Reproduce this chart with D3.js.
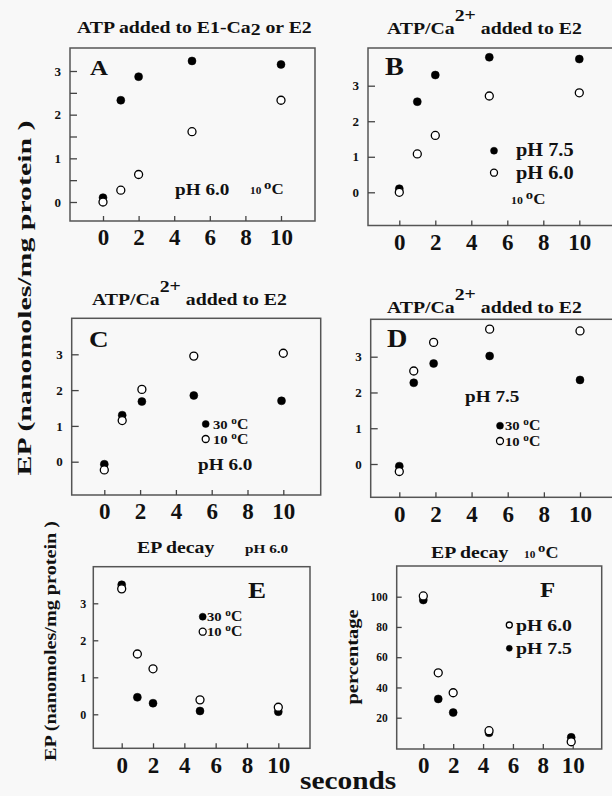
<!DOCTYPE html>
<html>
<head>
<meta charset="utf-8">
<script src="https://cdnjs.cloudflare.com/ajax/libs/d3/7.8.5/d3.min.js"></script>
<style>
  body { margin: 0; background: #f8f8f8; }
  svg { display: block; font-family: "Liberation Serif", "Times New Roman", serif; font-weight: bold; }
  .box { fill: none; stroke: #555; stroke-width: 1.5; }
  .axis line { stroke: #444; stroke-width: 1.3; }
  .axis text { fill: #111; font-family: "Liberation Serif", serif; font-weight: bold; }
</style>
</head>
<body>
<div class="wrapper"></div>
<script>
// shared ticks and times
var seconds = [0, 1, 2, 5, 10];
var xTicks = [0, 2, 4, 6, 8, 10];
var epTicks = [0, 1, 2, 3];
var epHalfTicks = [0, 0.5, 1, 1.5, 2, 2.5, 3];
var pctTicks = [20, 40, 60, 80, 100];

// A: ATP added to E1-Ca2 or E2
var aFilled = [0.1, 2.33, 2.87, 3.23, 3.15];
var aOpen = [0.0, 0.27, 0.63, 1.61, 2.33];

// B: ATP/Ca2+ added to E2, pH 7.5 (filled) / pH 6.0 (open)
var bFilled = [0.1, 2.55, 3.3, 3.8, 3.75];
var bOpen = [0.0, 1.08, 1.6, 2.71, 2.8];

// C: pH 6.0, 30 C (filled) / 10 C (open)
var cFilledTimes = [0, 1, 2.1, 5, 9.9];
var cOpenTimes = [0, 1, 2.1, 5, 10];
var cFilled = [-0.07, 1.3, 1.68, 1.85, 1.7];
var cOpen = [-0.23, 1.15, 2.02, 2.95, 3.03];

// D: pH 7.5, 30 C (filled) / 10 C (open)
var dTimes = [0, 0.8, 1.9, 5, 10];
var dFilled = [-0.06, 2.27, 2.81, 3.02, 2.35];
var dOpen = [-0.21, 2.6, 3.4, 3.77, 3.72];

// E: EP decay pH 6.0
var eFilled = [3.5, 0.46, 0.3, 0.09, 0.07];
var eOpen = [3.39, 1.63, 1.23, 0.39, 0.19];

// F: EP decay 10 C, pH 6.0 (open) / pH 7.5 (filled)
var fTimes = [0, 1, 2, 4.4, 9.9];
var fOpen = [100.5, 49.7, 36.5, 11.4, 4.1];
var fFilled = [97.8, 32.4, 23.4, 10, 7];

var W = 612,
  H = 796,
  stretch = 1.13;

var svg = d3
  .select(".wrapper")
  .append("svg")
  .attr("width", W)
  .attr("height", H);

var panels = [
  {
    letter: "A", box: [70, 48, 315, 221], xPix: [103, 281], yDom: [0, 3], yPix: [202, 71],
    yTicks: epHalfTicks, tick: 7, pad: 9, ySize: 13, letterAt: [90, 75, 22],
    series: [
      { x: seconds, y: aFilled, filled: true },
      { x: seconds, y: aOpen, filled: false }
    ]
  },
  {
    letter: "B", box: [368, 48, 618, 225.5], xPix: [399.3, 579.3], yDom: [0, 3], yPix: [192.3, 85.7],
    yTicks: epTicks, tick: 7, pad: 9, ySize: 13, letterAt: [385, 75, 25],
    series: [
      { x: seconds, y: bFilled, filled: true },
      { x: seconds, y: bOpen, filled: false }
    ]
  },
  {
    letter: "C", box: [71.7, 318.3, 320.7, 495], xPix: [104.3, 283.3], yDom: [0, 3], yPix: [461.7, 354.3],
    yTicks: epTicks, tick: 7, pad: 9, ySize: 13, letterAt: [89, 347, 24],
    series: [
      { x: cFilledTimes, y: cFilled, filled: true },
      { x: cOpenTimes, y: cOpen, filled: false }
    ]
  },
  {
    letter: "D", box: [370.7, 319.3, 618, 497.3], xPix: [399.3, 580], yDom: [0, 3], yPix: [464, 356.7],
    yTicks: epTicks, tick: 7, pad: 9, ySize: 13, letterAt: [387, 347, 25],
    series: [
      { x: dTimes, y: dFilled, filled: true },
      { x: dTimes, y: dOpen, filled: false }
    ]
  },
  {
    letter: "E", box: [93.3, 566.7, 310, 748.3], xPix: [121.7, 278.3], yDom: [0, 3], yPix: [714.3, 603.3],
    yTicks: epTicks, tick: 5, pad: 7, ySize: 12, letterAt: [248, 598, 24],
    series: [
      { x: seconds, y: eFilled, filled: true },
      { x: seconds, y: eOpen, filled: false }
    ]
  },
  {
    letter: "F", box: [396.7, 566, 601.7, 749], xPix: [423.3, 572.7], yDom: [20, 100], yPix: [717.7, 596.7],
    yTicks: pctTicks, tick: 5, pad: 9, ySize: 11.5, letterAt: [540, 597, 22],
    series: [
      { x: fTimes, y: fFilled, filled: true },
      { x: fTimes, y: fOpen, filled: false }
    ]
  }
];

// text placed with a slight horizontal stretch like the scanned figure
function addText(parent, x, y, size, anchor) {
  return parent
    .append("g")
    .attr("transform", "translate(" + x + "," + y + ") scale(" + stretch + ",1)")
    .append("text")
    .attr("text-anchor", anchor || "start")
    .style("font-size", size + "px")
    .attr("fill", "#111");
}

// "10 oC" style label with raised o
function degText(parent, x, y, num, s) {
  var t = addText(parent, x, y, s[0]);
  t.append("tspan").text(num + " ");
  t.append("tspan").attr("dy", -s[3]).style("font-size", s[1] + "px").text("o");
  t.append("tspan").attr("dy", s[3]).style("font-size", s[2] + "px").text("C");
  return t;
}

function dot(parent, x, y, r, filled) {
  parent
    .append("circle")
    .attr("cx", x)
    .attr("cy", y)
    .attr("r", r)
    .attr("fill", filled ? "#000" : "#fff")
    .attr("stroke", "#000")
    .attr("stroke-width", filled ? 0.5 : 1.3);
}

panels.forEach(function(p) {
  var g = svg.append("g").attr("class", "panel-" + p.letter);
  var b = p.box;

  var x = d3.scaleLinear().domain([0, 10]).range(p.xPix);
  var y = d3.scaleLinear().domain(p.yDom).range(p.yPix);

  g.append("rect")
    .attr("class", "box")
    .attr("x", b[0])
    .attr("y", b[1])
    .attr("width", b[2] - b[0])
    .attr("height", b[3] - b[1]);

  // x axis, ticks pointing inside the box
  var xa = g
    .append("g")
    .attr("class", "axis")
    .attr("transform", "translate(0," + b[3] + ")")
    .call(
      d3.axisBottom(x)
        .tickValues(xTicks)
        .tickSizeInner(-5)
        .tickSizeOuter(0)
        .tickPadding(8)
    );
  xa.select(".domain").remove();
  xa.selectAll("text").style("font-size", "23px");

  // y axis
  var ya = g
    .append("g")
    .attr("class", "axis")
    .attr("transform", "translate(" + b[0] + ",0)")
    .call(
      d3.axisLeft(y)
        .tickValues(p.yTicks)
        .tickSizeInner(-p.tick)
        .tickSizeOuter(0)
        .tickPadding(p.pad)
        .tickFormat(function(d) {
          return Number.isInteger(d) ? d : "";
        })
    );
  ya.select(".domain").remove();
  ya.selectAll("text").style("font-size", p.ySize + "px");

  // filled first, open circles on top
  p.series.forEach(function(s) {
    g.selectAll(null)
      .data(d3.zip(s.x, s.y))
      .enter()
      .append("circle")
      .attr("cx", function(d) { return x(d[0]); })
      .attr("cy", function(d) { return y(d[1]); })
      .attr("r", 4)
      .attr("fill", s.filled ? "#000" : "#fff")
      .attr("stroke", "#000")
      .attr("stroke-width", s.filled ? 0.5 : 1.3);
  });

  addText(g, p.letterAt[0], p.letterAt[1], p.letterAt[2]).text(p.letter);
});

// titles
var tA = addText(svg, 77, 33, 17.5);
tA.append("tspan").text("ATP added to E1-Ca");
tA.append("tspan").attr("dy", 2).text("2");
tA.append("tspan").attr("dy", -2).text(" or E2");

function caTitle(x, y) {
  var t = addText(svg, x, y, 17.5);
  t.append("tspan").text("ATP/Ca");
  t.append("tspan").attr("dy", -13).text("2+");
  t.append("tspan").attr("dy", 13).text(" added to E2");
}
caTitle(387, 34);
caTitle(92, 305);
caTitle(387, 313);

addText(svg, 137, 553, 17.5).text("EP decay");
addText(svg, 245, 553, 13.5).text("pH 6.0");

addText(svg, 431, 558, 17.5).text("EP decay");
degText(svg, 524, 558, "10", [10, 13, 16, 6]);

// panel notes and legends
addText(svg, 175, 195, 17).text("pH 6.0");
degText(svg, 250, 194, "10", [10, 13, 15, 5]);

dot(svg, 494, 150.7, 3.5, true);
addText(svg, 516, 156, 18).text("pH 7.5");
dot(svg, 494, 172.7, 3.5, false);
addText(svg, 516, 179, 18).text("pH 6.0");
degText(svg, 511, 204, "10", [10.5, 13, 15, 5]);

var small30 = [13, 10, 14, 5];

dot(svg, 205.7, 424, 3.5, true);
degText(svg, 213, 429, "30", small30);
dot(svg, 205.7, 439, 3.5, false);
degText(svg, 213, 444, "10", small30);
addText(svg, 198, 470, 17).text("pH 6.0");

addText(svg, 465, 402, 17).text("pH 7.5");
dot(svg, 500, 425.7, 3.5, true);
degText(svg, 505, 430, "30", small30);
dot(svg, 500, 441, 3.5, false);
degText(svg, 505, 446, "10", small30);

dot(svg, 202.7, 616.7, 3.5, true);
degText(svg, 207, 621, "30", small30);
dot(svg, 202.7, 631.7, 3.5, false);
degText(svg, 207, 636, "10", small30);

dot(svg, 509.3, 625, 3, false);
addText(svg, 516, 630.5, 17.5).text("pH 6.0");
dot(svg, 509.3, 648.3, 3, true);
addText(svg, 516, 653.5, 17.5).text("pH 7.5");

// axis titles
svg
  .append("text")
  .attr("transform", "translate(31,298) rotate(-90)")
  .attr("text-anchor", "middle")
  .attr("textLength", 355)
  .attr("lengthAdjust", "spacingAndGlyphs")
  .style("font-size", "19px")
  .attr("fill", "#111")
  .text("EP (nanomoles/mg protein )");

svg
  .append("text")
  .attr("transform", "translate(56,641) rotate(-90)")
  .attr("text-anchor", "middle")
  .attr("textLength", 240)
  .attr("lengthAdjust", "spacingAndGlyphs")
  .style("font-size", "17px")
  .attr("fill", "#111")
  .text("EP (nanomoles/mg protein )");

svg
  .append("text")
  .attr("transform", "translate(358,657) rotate(-90)")
  .attr("text-anchor", "middle")
  .attr("textLength", 95)
  .attr("lengthAdjust", "spacingAndGlyphs")
  .style("font-size", "16px")
  .attr("fill", "#111")
  .text("percentage");

addText(svg, 300, 789, 26).text("seconds");
</script>
</body>
</html>
